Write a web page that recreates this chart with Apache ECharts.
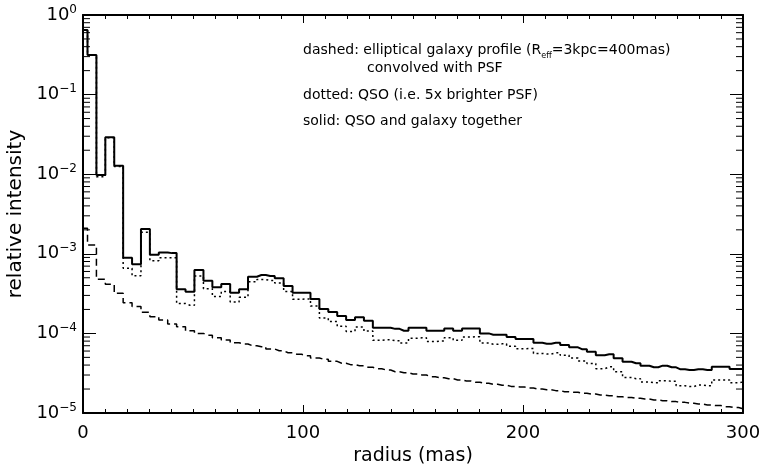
<!DOCTYPE html>
<html><head><meta charset="utf-8">
<script src="https://cdn.jsdelivr.net/npm/echarts@6/dist/echarts.min.js"></script>
<style>html,body{margin:0;padding:0;background:#fff}#c{width:760px;height:466px}</style>
</head><body><div id="c"></div>
<script>
// radius of each profile sample (mas)
const radius = [0, 4.1, 8.1, 12.2, 16.2, 20.3, 24.3, 28.4, 32.4, 36.5, 40.5, 44.6, 48.6, 52.7, 56.8, 60.8, 64.9, 68.9, 73.0, 77.0,
  81.1, 85.1, 89.2, 93.2, 97.3, 101.4, 105.4, 109.5, 113.5, 117.6, 121.6, 125.7, 129.7, 133.8, 137.8, 141.9, 145.9, 150.0, 154.1, 158.1,
  162.2, 166.2, 170.3, 174.3, 178.4, 182.4, 186.5, 190.5, 194.6, 198.6, 202.7, 206.8, 210.8, 214.9, 218.9, 223.0, 227.0, 231.1, 235.1, 239.2,
  243.2, 247.3, 251.4, 255.4, 259.5, 263.5, 267.6, 271.6, 275.7, 279.7, 283.8, 287.8, 291.9, 295.9, 300.0];

// dashed: elliptical galaxy profile convolved with PSF
const galaxy = [2.1e-3, 1.29e-3, 4.78e-4, 4.14e-4, 3.19e-4, 2.43e-4, 2.17e-4, 1.84e-4, 1.62e-4, 1.47e-4,
  1.31e-4, 1.21e-4, 1.08e-4, 1.00e-4, 9.46e-5, 8.83e-5, 8.26e-5, 7.64e-5, 7.36e-5, 7.01e-5,
  6.81e-5, 6.37e-5, 6.06e-5, 5.72e-5, 5.46e-5, 5.25e-5, 4.91e-5, 4.73e-5, 4.46e-5, 4.21e-5,
  4.05e-5, 3.93e-5, 3.75e-5, 3.60e-5, 3.47e-5, 3.30e-5, 3.21e-5, 3.09e-5, 3.00e-5, 2.86e-5,
  2.78e-5, 2.70e-5, 2.60e-5, 2.52e-5, 2.43e-5, 2.36e-5, 2.29e-5, 2.23e-5, 2.16e-5, 2.12e-5,
  2.06e-5, 2.00e-5, 1.96e-5, 1.91e-5, 1.85e-5, 1.82e-5, 1.77e-5, 1.73e-5, 1.68e-5, 1.65e-5,
  1.60e-5, 1.57e-5, 1.53e-5, 1.50e-5, 1.46e-5, 1.43e-5, 1.39e-5, 1.36e-5, 1.33e-5, 1.30e-5,
  1.26e-5, 1.24e-5, 1.20e-5, 1.17e-5, 1.13e-5];

// dotted: QSO (5x brighter PSF)
const qso = [0.646, 0.313, 0.0093, 0.0287, 0.0125, 6.6e-4, 5.3e-4, 1.87e-3, 8.2e-4, 8.9e-4,
  8.9e-4, 2.37e-4, 2.26e-4, 5.25e-4, 3.64e-4, 2.91e-4, 3.35e-4, 2.48e-4, 2.84e-4, 4.45e-4,
  4.74e-4, 4.62e-4, 4.31e-4, 3.37e-4, 2.69e-4, 2.71e-4, 2.21e-4, 1.56e-4, 1.41e-4, 1.23e-4,
  1.06e-4, 1.20e-4, 1.07e-4, 8.2e-5, 8.3e-5, 8.1e-5, 7.6e-5, 8.7e-5, 8.8e-5, 7.9e-5,
  8.0e-5, 8.8e-5, 8.2e-5, 9.0e-5, 9.1e-5, 7.6e-5, 7.3e-5, 7.4e-5, 6.9e-5, 6.4e-5,
  6.45e-5, 5.6e-5, 5.5e-5, 5.7e-5, 5.3e-5, 4.9e-5, 4.5e-5, 4.2e-5, 3.6e-5, 3.8e-5,
  3.3e-5, 2.8e-5, 2.7e-5, 2.45e-5, 2.4e-5, 2.55e-5, 2.5e-5, 2.2e-5, 2.15e-5, 2.25e-5,
  2.2e-5, 2.6e-5, 2.6e-5, 2.4e-5, 2.45e-5];

// solid: QSO and galaxy together
const total = [0.648, 0.314, 0.00977, 0.0291, 0.0128, 8.93e-4, 7.38e-4, 2.05e-3, 9.75e-4, 1.04e-3,
  1.02e-3, 3.58e-4, 3.34e-4, 6.25e-4, 4.59e-4, 3.79e-4, 4.18e-4, 3.24e-4, 3.58e-4, 5.15e-4,
  5.42e-4, 5.26e-4, 4.92e-4, 3.94e-4, 3.24e-4, 3.24e-4, 2.70e-4, 2.03e-4, 1.86e-4, 1.65e-4,
  1.47e-4, 1.59e-4, 1.44e-4, 1.18e-4, 1.18e-4, 1.14e-4, 1.08e-4, 1.18e-4, 1.18e-4, 1.08e-4,
  1.08e-4, 1.15e-4, 1.08e-4, 1.15e-4, 1.15e-4, 1.00e-4, 9.63e-5, 9.63e-5, 9.02e-5, 8.51e-5,
  8.51e-5, 7.64e-5, 7.43e-5, 7.64e-5, 7.15e-5, 6.68e-5, 6.31e-5, 5.89e-5, 5.31e-5, 5.46e-5,
  4.86e-5, 4.41e-5, 4.21e-5, 3.93e-5, 3.75e-5, 3.93e-5, 3.75e-5, 3.54e-5, 3.47e-5, 3.54e-5,
  3.47e-5, 3.82e-5, 3.82e-5, 3.57e-5, 3.57e-5];

const xTickLabels = ['0', '100', '200', '300'];
const yTickExponents = ['0', '\u22121', '\u22122', '\u22123', '\u22124', '\u22125'];
const minorMantissas = [2, 3, 4, 5, 6, 7, 8, 9];
const decades = [1e-5, 1e-4, 1e-3, 1e-2, 1e-1];

const FONT = 'DejaVu Sans';
const minorTickVals = [];
decades.forEach(d => minorMantissas.forEach(m => minorTickVals.push([0, d * m])));

const pairs = arr => radius.map((r, i) => [r, arr[i]]);

const chart = echarts.init(document.getElementById('c'), null, {renderer: 'canvas'});

const xBase = {
  type: 'value', min: 0, max: 300, interval: 100,
  axisLine: {show: true, onZero: false, lineStyle: {color: '#000', width: 2}},
  axisTick: {show: true, inside: true, length: 8, lineStyle: {color: '#000', width: 1}},
  minorTick: {show: true, splitNumber: 10, length: 4, lineStyle: {color: '#000', width: 1}},
  splitLine: {show: false}, minorSplitLine: {show: false}
};
const yBase = {
  type: 'log', logBase: 10, min: 1e-5, max: 1,
  axisLine: {show: true, onZero: false, lineStyle: {color: '#000', width: 2}},
  axisTick: {show: true, inside: true, length: 13, lineStyle: {color: '#000', width: 1}},
  splitLine: {show: false}
};

chart.setOption({
  animation: false,
  backgroundColor: '#fff',
  grid: {left: 83, right: 17, top: 15, bottom: 53, containLabel: false, outerBoundsMode: 'none'},
  xAxis: [
    Object.assign({}, xBase, {
      position: 'bottom',
      name: 'radius (mas)', nameLocation: 'middle', nameGap: 33,
      nameTextStyle: {fontFamily: FONT, fontSize: 19, color: '#000'},
      axisLabel: {show: true, margin: 11, fontFamily: FONT, fontSize: 18, color: '#000',
        formatter: v => xTickLabels[Math.round(v / 100)]}
    }),
    Object.assign({}, xBase, {position: 'top', axisLabel: {show: false}})
  ],
  yAxis: [
    Object.assign({}, yBase, {
      position: 'left',
      name: 'relative intensity', nameLocation: 'middle', nameGap: 53,
      nameTextStyle: {fontFamily: FONT, fontSize: 20, color: '#000'},
      axisLabel: {
        show: true, margin: 6, color: '#000',
        formatter: v => '{b|10}{s|' + yTickExponents[Math.round(-Math.log10(v))] + '}',
        rich: {
          b: {fontFamily: FONT, fontSize: 18, color: '#000', lineHeight: 23},
          s: {fontFamily: FONT, fontSize: 12, color: '#000', verticalAlign: 'top', lineHeight: 13}
        }
      }
    }),
    Object.assign({}, yBase, {position: 'right', axisLabel: {show: false}})
  ],
  graphic: [
    {type: 'text', x: 303, y: 50, style: {
      text: '{a|dashed: elliptical galaxy profile (R}{s|eff}{a|=3kpc=400mas)}',
      verticalAlign: 'middle',
      rich: {
        a: {fontFamily: FONT, fontSize: 14, fill: '#000', color: '#000', lineHeight: 19},
        s: {fontFamily: FONT, fontSize: 8, fill: '#000', color: '#000', verticalAlign: 'bottom', lineHeight: 8}
      }}},
    {type: 'text', x: 367, y: 68, style: {text: 'convolved with PSF', fontFamily: FONT, fontSize: 14, fill: '#000', verticalAlign: 'middle'}},
    {type: 'text', x: 303, y: 95, style: {text: 'dotted: QSO (i.e. 5x brighter PSF)', fontFamily: FONT, fontSize: 14, fill: '#000', verticalAlign: 'middle'}},
    {type: 'text', x: 303, y: 121, style: {text: 'solid: QSO and galaxy together', fontFamily: FONT, fontSize: 14, fill: '#000', verticalAlign: 'middle'}}
  ],
  series: [
    {name: 'galaxy', type: 'line', step: 'middle', data: pairs(galaxy), showSymbol: false, symbol: 'none',
      lineStyle: {color: '#000', width: 1.5, type: [7, 4]}, z: 3},
    {name: 'qso', type: 'line', step: 'middle', data: pairs(qso), showSymbol: false, symbol: 'none',
      lineStyle: {color: '#000', width: 1.5, type: [2, 3]}, z: 4},
    {name: 'total', type: 'line', step: 'middle', data: pairs(total), showSymbol: false, symbol: 'none',
      lineStyle: {color: '#000', width: 2}, z: 5},
    {name: 'minorTicks', type: 'custom', silent: true, clip: false, data: minorTickVals, z: 6,
      renderItem: function (params, api) {
        const v = api.value(1);
        const pL = api.coord([0, v]);
        const pR = api.coord([300, v]);
        return {type: 'group', children: [
          {type: 'line', shape: {x1: pL[0], y1: pL[1], x2: pL[0] + 7, y2: pL[1]}, style: {stroke: '#000', lineWidth: 1}},
          {type: 'line', shape: {x1: pR[0] - 7, y1: pR[1], x2: pR[0], y2: pR[1]}, style: {stroke: '#000', lineWidth: 1}}
        ]};
      }}
  ]
});
</script></body></html>
